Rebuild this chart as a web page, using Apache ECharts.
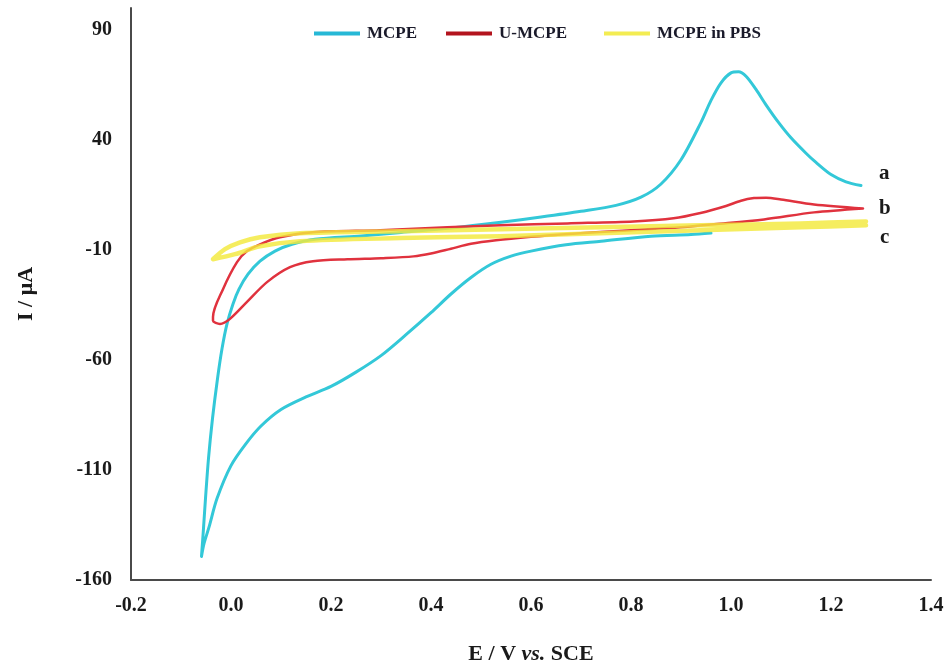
<!DOCTYPE html>
<html>
<head>
<meta charset="utf-8">
<script src="https://cdn.jsdelivr.net/npm/echarts@6/dist/echarts.min.js"></script>
<style>
  html, body { margin: 0; padding: 0; background: #fff; }
  #chart { width: 948px; height: 668px; }
</style>
</head>
<body>
<div id="chart"></div>
<script>
// Cyclic voltammograms: current (µA) against potential (V vs. SCE)
const potentialTicks = [-0.2, 0.0, 0.2, 0.4, 0.6, 0.8, 1.0, 1.2, 1.4];
const currentTicks = [-160, -110, -60, -10, 40, 90];

// MCPE: reverse branch (right to left), cathodic tip, then forward branch with the anodic peak
const mcpeE = [0.96, 0.92, 0.84, 0.74, 0.67, 0.60, 0.56, 0.52, 0.48, 0.44, 0.40, 0.35, 0.30, 0.25, 0.20, 0.15, 0.10, 0.06, 0.03, 0.00, -0.028, -0.044, -0.054, -0.059,
  -0.055, -0.051, -0.045, -0.037, -0.027, -0.018, -0.008, 0.004, 0.016, 0.034, 0.058, 0.088, 0.122, 0.168, 0.26, 0.34, 0.44, 0.54, 0.62, 0.70, 0.77, 0.82, 0.86, 0.90, 0.94, 0.96, 0.98, 1.00, 1.015, 1.03, 1.05, 1.07, 1.095, 1.12, 1.15, 1.17, 1.20, 1.23, 1.26];
const mcpeI = [-2.3, -3.0, -3.7, -6.0, -7.6, -10.5, -12.8, -16.5, -22.5, -30.0, -38.5, -48.5, -58.0, -65.5, -72.0, -76.8, -82.5, -90.0, -98.0, -108.0, -123.0, -136.0, -143.5, -149.3,
  -136.5, -122.9, -104.7, -86.6, -68.5, -54.9, -43.6, -34.5, -27.8, -21.0, -15.1, -10.5, -7.4, -5.1, -3.6, -2.0, 0.0, 2.6, 5.0, 7.6, 10.3, 14.0, 20.0, 31.0, 48.0, 58.0, 66.0, 70.5, 71.0, 69.0, 63.0, 56.0, 48.0, 41.0, 34.0, 29.8, 24.3, 21.0, 19.3];

// U-MCPE: from the switching point back to the cathodic tip and forward again
const umcpeE = [1.264, 1.166, 1.066, 0.966, 0.899, 0.80, 0.66, 0.60, 0.53, 0.48, 0.44, 0.40, 0.365, 0.30, 0.233, 0.164, 0.118, 0.072, 0.032, -0.002, -0.022, -0.036,
  -0.036, -0.016, 0.012, 0.032, 0.058, 0.098, 0.164, 0.299, 0.433, 0.539, 0.673, 0.805, 0.885, 0.939, 0.99, 1.02, 1.046, 1.07, 1.10, 1.166, 1.264];
const umcpeI = [8.9, 7.1, 3.9, 1.7, 0.3, -1.0, -2.9, -4.0, -5.6, -7.2, -9.4, -11.6, -12.9, -13.7, -14.2, -15.1, -17.8, -24.6, -33.6, -41.3, -43.6, -42.2,
  -40.4, -27.8, -15.5, -10.5, -7.4, -4.2, -1.9, -1.0, 0.3, 1.2, 2.1, 3.0, 4.4, 6.8, 10.0, 12.4, 13.6, 13.8, 13.0, 10.7, 8.9];

// MCPE in PBS (blank)
const pbsE = [1.27, 1.14, 0.939, 0.739, 0.539, 0.339, 0.138, 0.058, 0.018, -0.012, -0.036,
  0.008, 0.058, 0.138, 0.339, 0.539, 0.739, 0.939, 1.14, 1.27];
const pbsI = [3.0, 2.1, 1.2, 0.3, -0.6, -1.5, -2.4, -4.2, -6.5, -9.6, -14.2,
  -11.9, -8.3, -6.0, -4.6, -3.7, -2.4, -1.0, 0.3, 1.2];

const seriesNames = ['MCPE', 'U-MCPE', 'MCPE in PBS'];
const curveLabels = ['a', 'b', 'c'];

const pairs = (xs, ys) => xs.map((x, i) => [x, ys[i]]);
const FONT = "'Liberation Serif', 'Times New Roman', serif";

const chart = echarts.init(document.getElementById('chart'), null, { renderer: 'canvas' });

function curve(name, data, color, width, opacity, label, labelOffset, z) {
  return {
    name, type: 'line', data, smooth: 0.3, showSymbol: false, symbol: 'none', z,
    lineStyle: { color, width, opacity, cap: 'round', join: 'round' },
    itemStyle: { color },
    endLabel: {
      show: true, formatter: label, offset: labelOffset, distance: 14,
      color: '#1a1a1a', fontFamily: FONT, fontWeight: 'bold', fontSize: 21
    },
    emphasis: { disabled: true }
  };
}

function legendAt(left, name, color) {
  return {
    left, top: 20, icon: 'rect', itemWidth: 46, itemHeight: 4, itemGap: 0,
    selectedMode: false,
    textStyle: { fontFamily: FONT, fontWeight: 'bold', fontSize: 17, color: '#1a1a2a', padding: [0, 0, 0, 2] },
    data: [{ name, itemStyle: { color } }]
  };
}

chart.setOption({
  animation: false,
  backgroundColor: '#ffffff',
  grid: { left: 131, right: 17, top: 8, bottom: 88, containLabel: false, outerBoundsMode: 'none' },
  legend: [
    legendAt(309, seriesNames[0], '#26b8d6'),
    legendAt(441, seriesNames[1], '#b3141e'),
    legendAt(599, seriesNames[2], '#f3ec52')
  ],
  xAxis: {
    type: 'value', min: -0.2, max: 1.4,
    name: '{n|E / V }{i|vs.}{n| SCE}', nameLocation: 'middle', nameGap: 63,
    nameTextStyle: {
      rich: {
        n: { fontFamily: FONT, fontWeight: 'bold', fontSize: 22, color: '#1a1a1a' },
        i: { fontFamily: FONT, fontWeight: 'bold', fontStyle: 'italic', fontSize: 22, color: '#1a1a1a' }
      }
    },
    axisLine: { show: true, onZero: false, lineStyle: { color: '#4a4a4a', width: 2 } },
    axisTick: { show: false },
    splitLine: { show: false },
    axisLabel: {
      customValues: potentialTicks, margin: 16,
      formatter: v => v.toFixed(1),
      fontFamily: FONT, fontWeight: 'bold', fontSize: 20, color: '#1a1a1a'
    }
  },
  yAxis: {
    type: 'value', min: -160, max: 100,
    name: 'I / μA', nameLocation: 'middle', nameGap: 94, nameRotate: 90,
    nameTextStyle: { fontFamily: FONT, fontWeight: 'bold', fontSize: 22, color: '#1a1a1a' },
    axisLine: { show: true, onZero: false, lineStyle: { color: '#4a4a4a', width: 2 } },
    axisTick: { show: false },
    splitLine: { show: false },
    axisLabel: {
      customValues: currentTicks, margin: 19,
      fontFamily: FONT, fontWeight: 'bold', fontSize: 20, color: '#1a1a1a'
    }
  },
  series: [
    curve(seriesNames[0], pairs(mcpeE, mcpeI), '#33c8d8', 3, 1, curveLabels[0], [4, -12], 2),
    curve(seriesNames[1], pairs(umcpeE, umcpeI), '#e0323e', 2.5, 1, curveLabels[1], [2, 0], 3),
    curve(seriesNames[2], pairs(pbsE, pbsI), '#f3e93c', 4.5, 0.82, curveLabels[2], [0, 12], 4)
  ]
});
</script>
</body>
</html>
